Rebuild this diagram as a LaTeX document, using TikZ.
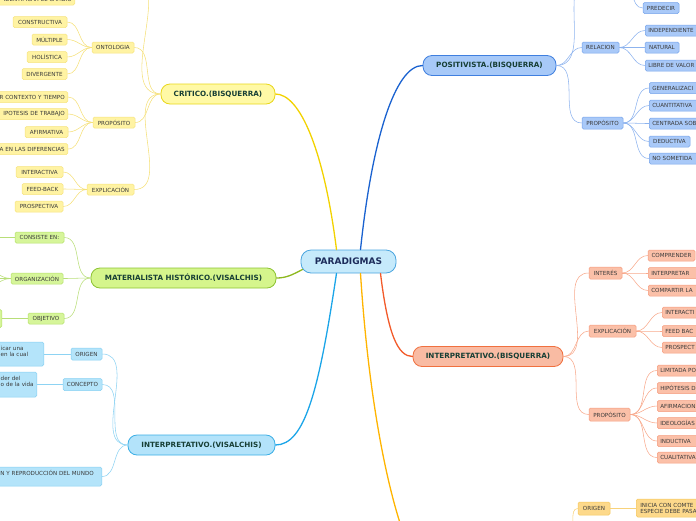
\documentclass[tikz,border=0pt]{standalone}
\usepackage{fontspec}
\setmainfont{DejaVu Sans}
\usetikzlibrary{calc}
\definecolor{paraf}{HTML}{C6EAFB}\definecolor{parad}{HTML}{4AA5DF}\definecolor{paratext}{HTML}{1C2B5A}
\definecolor{maintext}{HTML}{173F35}\definecolor{kidtext}{HTML}{3A3A3A}
\definecolor{ymf}{HTML}{FFF9A6}\definecolor{ymd}{HTML}{E9D71A}\definecolor{ycf}{HTML}{FFF3A3}\definecolor{ycd}{HTML}{F6E37E}\definecolor{ylk}{HTML}{F5E07A}\definecolor{yln}{HTML}{F2D200}
\definecolor{gmf}{HTML}{D5F58C}\definecolor{gmd}{HTML}{8CC332}\definecolor{gcf}{HTML}{D6F59A}\definecolor{gcd}{HTML}{B5E06A}\definecolor{glk}{HTML}{B8DE78}\definecolor{gln}{HTML}{8DB81E}
\definecolor{cmf}{HTML}{B3E3FA}\definecolor{cmd}{HTML}{3AAEE5}\definecolor{ccf}{HTML}{B4E4FA}\definecolor{ccd}{HTML}{86D0F2}\definecolor{clk}{HTML}{8DD3F3}\definecolor{cln}{HTML}{1BA5E8}
\definecolor{bmf}{HTML}{A7C9F8}\definecolor{bmd}{HTML}{3F7FDF}\definecolor{bcf}{HTML}{A9C9F8}\definecolor{bcd}{HTML}{75A3EA}\definecolor{blk}{HTML}{8DB3EE}\definecolor{bln}{HTML}{1A62D0}
\definecolor{rmf}{HTML}{F9BBA3}\definecolor{rmd}{HTML}{F0703F}\definecolor{rcf}{HTML}{FBC0A8}\definecolor{rcd}{HTML}{F59B7D}\definecolor{rlk}{HTML}{F8A98C}\definecolor{rln}{HTML}{F25A2A}
\definecolor{ocf}{HTML}{FDD98B}\definecolor{ocd}{HTML}{F5C75A}\definecolor{olk}{HTML}{F8D27A}\definecolor{oln}{HTML}{FFB400}
\begin{document}
\begin{tikzpicture}[x=1pt,y=-1pt,
  kid/.style={draw, rounded corners=1.5pt, line width=0.5pt, inner xsep=3pt, inner ysep=0pt, minimum height=11pt, font=\fontsize{5.6}{6.6}\selectfont, text=kidtext},
  ykid/.style={kid, fill=ycf, draw=ycd},
  gkid/.style={kid, fill=gcf, draw=gcd},
  ckid/.style={kid, fill=ccf, draw=ccd},
  bkid/.style={kid, fill=bcf, draw=bcd},
  rkid/.style={kid, fill=rcf, draw=rcd},
  okid/.style={kid, fill=ocf, draw=ocd},
  mainnode/.style={draw, rounded corners=9pt, line width=0.8pt, inner sep=0pt, minimum height=20pt, font=\bfseries\fontsize{7.2}{8}\selectfont, text=maintext},
  lclip/.style={anchor=east, text width=#1, align=right},
  rclip/.style={anchor=west, text width=80pt, align=left},
  mline/.style={line width=1.3pt, line cap=round},
  link/.style={line width=0.55pt},
]
\useasboundingbox (0,0) rectangle (696,520);

% ---------- main nodes ----------
\node[mainnode, fill=paraf, draw=parad, text=paratext, minimum width=95pt, minimum height=23pt, rounded corners=10pt, font=\bfseries\fontsize{9}{10}\selectfont] (para) at (348.5,261.5) {PARADIGMAS};
\node[mainnode, fill=ymf, draw=ymd, minimum width=114pt] (crit) at (218,94) {CRITICO.(BISQUERRA)};
\node[mainnode, fill=gmf, draw=gmd, minimum width=185pt] (mat) at (183.5,278) {MATERIALISTA HISTÓRICO.(VISALCHIS)};
\node[mainnode, fill=cmf, draw=cmd, minimum width=147pt] (intv) at (201.5,445) {INTERPRETATIVO.(VISALCHIS)};
\node[mainnode, fill=bmf, draw=bmd, minimum width=133pt] (pos) at (489.5,65.5) {POSITIVISTA.(BISQUERRA)};
\node[mainnode, fill=rmf, draw=rmd, minimum width=150pt] (intb) at (488,356.5) {INTERPRETATIVO.(BISQUERRA)};
\coordinate (obot) at (403,532);

% ---------- main connectors ----------
\draw[mline, draw=yln] ($(para.north)+(-12,0)$) .. controls (324,150) and (300,94) .. (crit.east);
\draw[mline, draw=bln] ($(para.north)+(12,0)$) .. controls (372,140) and (395,65.5) .. (pos.west);
\draw[mline, draw=gln] ($(para.south west)+(2,-4)$) .. controls (292,275) and (286,278) .. (mat.east);
\draw[mline, draw=cln] ($(para.south)+(-12,0)$) .. controls (319,390) and (305,445) .. (intv.east);
\draw[mline, draw=rln] ($(para.south)+(32,0)$) .. controls (388,335) and (398,356.5) .. (intb.west);
\draw[mline, draw=oln] ($(para.south)+(12,0)$) .. controls (368,390) and (385,480) .. (obot);

% ---------- CRITICO ----------
\node[ykid, lclip=80pt] (ident) at (75,-0.5) {IDENTIFICAR EL CAMBIO};
\node[ykid, minimum width=42pt] (ont) at (113,47.5) {ONTOLOGIA};
\node[ykid, minimum width=54pt] (cons) at (40,22) {CONSTRUCTIVA};
\node[ykid, minimum width=35pt] (mult) at (49.5,39.5) {MÚLTIPLE};
\node[ykid, minimum width=40pt] (hol) at (47,57) {HOLÍSTICA};
\node[ykid, minimum width=45pt] (div) at (44.5,74) {DIVERGENTE};
\node[ykid, minimum width=42pt] (propc) at (114,122.5) {PROPÓSITO};
\node[ykid, lclip=80pt] (ctx) at (68,97) {R CONTEXTO Y TIEMPO};
\node[ykid, lclip=80pt] (hip) at (68,114) {IPOTESIS DE TRABAJO};
\node[ykid, minimum width=43pt] (afir) at (46.5,132) {AFIRMATIVA};
\node[ykid, lclip=80pt] (dif) at (68,149) {A EN LAS DIFERENCIAS};
\node[ykid, minimum width=47pt] (explc) at (110.5,189.5) {EXPLICACIÓN};
\node[ykid, minimum width=47pt] (inter) at (39.5,172) {INTERACTIVA};
\node[ykid, minimum width=41pt] (feed) at (42.5,189) {FEED-BACK};
\node[ykid, minimum width=48pt] (prosp) at (39,206.5) {PROSPECTIVA};
\coordinate (crittop) at (130,-25);

\foreach \t in {ont,propc,explc,crittop} \draw[link, draw=ylk] (crit.west) to[out=180,in=0] (\t.east);
\foreach \t in {cons,mult,hol,div} \draw[link, draw=ylk] (ont.west) to[out=180,in=0] (\t.east);
\foreach \t in {ctx,hip,afir,dif} \draw[link, draw=ylk] (propc.west) to[out=180,in=0] (\t.east);
\foreach \t in {inter,feed,prosp} \draw[link, draw=ylk] (explc.west) to[out=180,in=0] (\t.east);

% ---------- MATERIALISTA ----------
\node[gkid, minimum width=49pt] (consi) at (39.5,237.5) {CONSISTE EN:};
\node[gkid, minimum width=52pt] (org) at (37,278.5) {ORGANIZACIÓN};
\node[gkid, minimum width=36pt] (obj) at (46,318.5) {OBJETIVO};
\node[gkid, anchor=east, minimum width=24pt, minimum height=18pt] (objc) at (2,318.5) {};
\coordinate (consc) at (-12,237.5);
\coordinate (orga) at (-22,264);
\coordinate (orgb) at (-22,278.5);
\coordinate (orgc) at (-22,293);

\foreach \t in {consi,org,obj} \draw[link, draw=glk] (mat.west) to[out=180,in=0] (\t.east);
\draw[link, draw=glk] (consi.west) -- (consc);
\foreach \t in {orga,orgb,orgc} \draw[link, draw=glk] (org.west) to[out=180,in=0] (\t);
\draw[link, draw=glk] (obj.west) -- (objc.east);

% ---------- INTERPRETATIVO (VISALCHIS) ----------
\node[ckid, minimum width=31pt, minimum height=12pt] (orv) at (86.5,354) {ORIGEN};
\node[ckid, minimum width=39pt, minimum height=12pt] (conv) at (82.5,384.5) {CONCEPTO};
\node[ckid, anchor=base east, text width=40pt, align=left, text height=8pt, text depth=16pt, font=\fontsize{5.6}{6.3}\selectfont] (orvc) at (44,350) {icar una\\en la cual};
\node[ckid, anchor=base east, text width=33pt, align=left, text height=8pt, text depth=17pt, font=\fontsize{5.6}{6.8}\selectfont] (convc) at (37,380) {der del\\o de la vida};
\node[ckid, anchor=base east, text width=130pt, align=right, inner xsep=8pt, text height=8pt, text depth=11pt] (repro) at (102,475) {ÓN Y REPRODUCCIÓN DEL MUNDO};

\foreach \t in {orv,conv,repro} \draw[link, draw=clk] (intv.west) to[out=180,in=0] (\t.east);
\draw[link, draw=clk] (orv.west) -- (orv.west -| orvc.east);
\draw[link, draw=clk] (conv.west) -- (conv.west -| convc.east);

% ---------- POSITIVISTA ----------
\node[bkid, minimum width=36pt] (pred) at (661,8) {PREDECIR};
\node[bkid, minimum width=37pt] (rel) at (600.5,47.5) {RELACION};
\node[bkid, rclip] (indep) at (645,30.5) {INDEPENDIENTE};
\node[bkid, minimum width=34pt] (nat) at (662,47.5) {NATURAL};
\node[bkid, rclip] (libre) at (645,65.5) {LIBRE DE VALOR};
\node[bkid, minimum width=41pt, minimum height=12pt] (propp) at (602.5,123) {PROPÓSITO};
\node[bkid, rclip] (gen) at (649,88) {GENERALIZACI};
\node[bkid, rclip] (cuan) at (649,105.5) {CUANTITATIVA};
\node[bkid, rclip] (cent) at (649,123.5) {CENTRADA SOB};
\node[bkid, minimum width=41pt] (ded) at (669.5,141.5) {DEDUCTIVA};
\node[bkid, rclip] (nosom) at (649,158.5) {NO SOMETIDA};
\coordinate (postop) at (592,-25);
\coordinate (predtop) at (622,-18);

\foreach \t in {rel,propp,postop} \draw[link, draw=blk] (pos.east) to[out=0,in=180] (\t);
\draw[link, draw=blk] (pred.west) to[out=180,in=0] (predtop);
\foreach \t in {indep,nat,libre} \draw[link, draw=blk] (rel.east) to[out=0,in=180] (\t.west);
\foreach \t in {gen,cuan,cent,ded,nosom} \draw[link, draw=blk] (propp.east) to[out=0,in=180] (\t.west);

% ---------- INTERPRETATIVO (BISQUERRA) ----------
\node[rkid, minimum width=33pt, minimum height=12pt] (ints) at (605.5,273) {INTERÉS};
\node[rkid, minimum width=47pt] (comp) at (671.5,255.5) {COMPRENDER};
\node[rkid, rclip] (interp) at (648,273) {INTERPRETAR};
\node[rkid, rclip] (compa) at (648,290.5) {COMPARTIR LA};
\node[rkid, minimum width=47pt, minimum height=12pt] (explb) at (612.5,331) {EXPLICACIÓN};
\node[rkid, rclip] (intrb) at (662,312.5) {INTERACTI};
\node[rkid, rclip] (feedb) at (662,331) {FEED BAC};
\node[rkid, rclip] (prospb) at (662,347.5) {PROSPECT};
\node[rkid, minimum width=41pt, minimum height=13pt] (propb) at (609.5,414.5) {PROPÓSITO};
\node[rkid, rclip] (lim) at (657,370.5) {LIMITADA PO};
\node[rkid, rclip] (hipb) at (657,388) {HIPÓTESIS D};
\node[rkid, rclip] (afb) at (657,406) {AFIRMACION};
\node[rkid, rclip] (ideo) at (657,423) {IDEOLOGÍAS};
\node[rkid, rclip] (induc) at (657,441) {INDUCTIVA};
\node[rkid, rclip] (cuali) at (657,457.5) {CUALITATIVA};

\foreach \t in {ints,explb,propb} \draw[link, draw=rlk] (intb.east) to[out=0,in=180] (\t.west);
\foreach \t in {comp,interp,compa} \draw[link, draw=rlk] (ints.east) to[out=0,in=180] (\t.west);
\foreach \t in {intrb,feedb,prospb} \draw[link, draw=rlk] (explb.east) to[out=0,in=180] (\t.west);
\foreach \t in {lim,hipb,afb,ideo,induc,cuali} \draw[link, draw=rlk] (propb.east) to[out=0,in=180] (\t.west);

% ---------- bottom branch ----------
\node[okid, minimum width=32pt, minimum height=13pt] (orb) at (594,508.5) {ORIGEN};
\node[okid, anchor=base west, text width=80pt, align=left, inner xsep=4pt, text height=8pt, text depth=10pt, font=\fontsize{5.6}{6.7}\selectfont] (inicia) at (636,507) {INICIA CON COMTE\\ESPECIE DEBE PASA};
\coordinate (orbc) at (568,532);
\draw[link, draw=olk] (orb.west) to[out=180,in=0] (orbc);
\draw[link, draw=olk] (orb.east) -- (orb.east -| inicia.west);
\end{tikzpicture}
\end{document}
